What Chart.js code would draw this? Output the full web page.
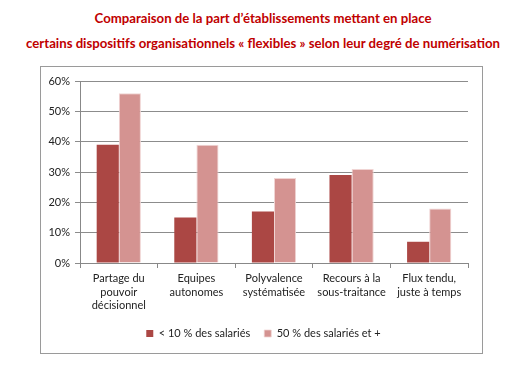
<!DOCTYPE html>
<html>
<head>
<meta charset="utf-8">
<script src="https://cdn.jsdelivr.net/npm/chart.js@4"></script>
<style>
	body { margin: 0; background: #fff; width: 510px; height: 369px; position: relative; overflow: hidden; }
	.title { position: absolute; left: 0; width: 526px; text-align: center; color: #c00000; font: bold 13.2px Lato, sans-serif; white-space: nowrap; }
	.chartholder { position: absolute; left: 40px; top: 66px; width: 441px; height: 286px; border: 1px solid #9a9a9a; }
</style>
</head>
<body>
<div class="title" style="top:10px">Comparaison de la part d’établissements mettant en place</div>
<div class="title" style="top:35px">certains dispositifs organisationnels « flexibles » selon leur degré de numérisation</div>
<div class="chartholder">
	<canvas id="myChart" width="441" height="286"></canvas>
</div>
<script>
const categories = [
	["Partage du", "pouvoir", "décisionnel"],
	["Equipes", "autonomes"],
	["Polyvalence", "systématisée"],
	["Recours à la", "sous-traitance"],
	["Flux tendu,", "juste à temps"]
];
const lowDigital = [39, 15, 17, 29, 7];
const highDigital = [56, 39, 28, 31, 18];
const seriesNames = ["< 10 % des salariés", "50 % des salariés et +"];
const yTicks = [0, 10, 20, 30, 40, 50, 60];

Chart.defaults.font.family = "Lato, sans-serif";
Chart.defaults.font.size = 11;
Chart.defaults.color = "#222";

// nudge the legend a bit to the right, like the original
const legendShift = {
	id: "legendShift",
	afterLayout(chart) {
		chart.legend.left += 9;
		chart.legend.right += 9;
	}
};

var ctx = document.getElementById("myChart");
var myChart = new Chart(ctx, {
	type: "bar",
	data: {
		labels: categories,
		datasets: [
			{
				label: seriesNames[0],
				data: lowDigital,
				backgroundColor: "#ab4744",
				borderColor: "#ab4744",
				borderWidth: 0,
				categoryPercentage: 0.57,
				barPercentage: 1
			},
			{
				label: seriesNames[1],
				data: highDigital,
				backgroundColor: "#d49391",
				borderColor: "#f0d4d3",
				borderWidth: { left: 1, right: 1, top: 1, bottom: 0 },
				categoryPercentage: 0.57,
				barPercentage: 1
			}
		]
	},
	options: {
		responsive: false,
		animation: false,
		layout: { padding: { left: 0, right: 14, top: 14, bottom: 4 } },
		plugins: {
			legend: {
				position: "bottom",
				labels: { boxWidth: 7, boxHeight: 7, padding: 14, color: "#222" }
			},
			tooltip: { enabled: false }
		},
		scales: {
			x: {
				grid: { offset: true, drawOnChartArea: false, color: "#888", tickLength: 5 },
				border: { color: "#888" },
				ticks: { padding: 3, maxRotation: 0, autoSkip: false, font: { lineHeight: 1.27 } },
				afterFit: function (scale) { scale.height = 51; }
			},
			y: {
				min: 0,
				max: 60,
				afterBuildTicks: function (scale) { scale.ticks = yTicks.map(v => ({ value: v })); },
				grid: { color: "#8c8c8c", tickLength: 5 },
				border: { color: "#888" },
				ticks: { padding: 5, callback: v => v + "%" },
				afterFit: function (scale) { scale.width = 39; }
			}
		}
	},
	plugins: [legendShift]
});
</script>
</body>
</html>
